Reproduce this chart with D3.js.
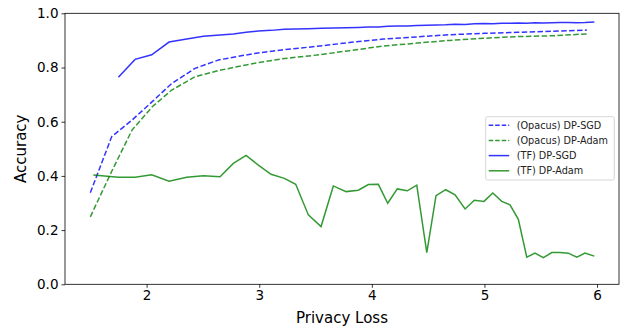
<!DOCTYPE html>
<html>
<head>
<meta charset="utf-8">
<script src="https://cdn.jsdelivr.net/npm/d3@7"></script>
<style>
  body { margin: 0; background: #fff; }
  svg { display: block; font-family: "DejaVu Sans", sans-serif; }
</style>
</head>
<body>
<svg id="chart" width="629" height="333"></svg>
<script>
// Accuracy vs privacy loss: Opacus vs TF, DP-SGD vs DP-Adam

const opacusEps  = [1.5, 1.69, 1.87, 2.05, 2.22, 2.43, 2.64, 2.96, 3.2, 3.51, 3.8, 4.1, 4.4, 4.69, 5.0, 5.29, 5.6, 5.91];
const opacusSgd  = [0.338, 0.545, 0.606, 0.674, 0.740, 0.797, 0.828, 0.852, 0.865, 0.878, 0.892, 0.905, 0.913, 0.921, 0.926, 0.930, 0.934, 0.938];
const opacusAdam = [0.249, 0.417, 0.569, 0.655, 0.716, 0.766, 0.789, 0.816, 0.832, 0.846, 0.862, 0.879, 0.890, 0.900, 0.908, 0.914, 0.917, 0.924];

const tfEps = [1.527, 1.749, 1.897, 2.045, 2.199, 2.356, 2.504, 2.652, 2.770, 2.883, 2.992, 3.105, 3.223, 3.324, 3.436,
               3.549, 3.658, 3.771, 3.880, 3.969, 4.058, 4.141, 4.226, 4.315, 4.399, 4.488, 4.570, 4.656, 4.739, 4.828,
               4.910, 4.996, 5.074, 5.154, 5.227, 5.301, 5.376, 5.449, 5.523, 5.598, 5.671, 5.745, 5.820, 5.893, 5.976];
const tfSgd  = [null, 0.764, 0.830, 0.847, 0.894, 0.905, 0.915, 0.920, 0.924, 0.930, 0.935, 0.937, 0.941, 0.942, 0.943,
                0.945, 0.946, 0.947, 0.948, 0.949, 0.949, 0.952, 0.953, 0.953, 0.955, 0.956, 0.957, 0.958, 0.960, 0.959,
                0.961, 0.962, 0.961, 0.963, 0.963, 0.964, 0.963, 0.965, 0.964, 0.965, 0.966, 0.966, 0.965, 0.966, 0.968];
const tfAdam = [0.403, 0.395, 0.395, 0.404, 0.380, 0.395, 0.401, 0.397, 0.446, 0.476, 0.440, 0.406, 0.391, 0.369, 0.256,
                0.213, 0.363, 0.342, 0.347, 0.368, 0.369, 0.299, 0.352, 0.345, 0.366, 0.117, 0.327, 0.349, 0.330, 0.278,
                0.310, 0.306, 0.337, 0.306, 0.293, 0.240, 0.100, 0.115, 0.098, 0.117, 0.117, 0.115, 0.100, 0.115, 0.104];

const xTicks = [2, 3, 4, 5, 6];
const yTicks = [0, 0.2, 0.4, 0.6, 0.8, 1.0];

const series = [
    { name: "(Opacus) DP-SGD",  xs: opacusEps, ys: opacusSgd,  color: "#0000ff", dash: "5.5,2.4" },
    { name: "(Opacus) DP-Adam", xs: opacusEps, ys: opacusAdam, color: "#008000", dash: "5.5,2.4" },
    { name: "(TF) DP-SGD",      xs: tfEps,     ys: tfSgd,      color: "#0000ff", dash: null },
    { name: "(TF) DP-Adam",     xs: tfEps,     ys: tfAdam,     color: "#008000", dash: null },
];

const W = 629, H = 333;
const margin = { top: 13.3, right: 10, bottom: 48.7, left: 65 };

const svg = d3.select("#chart");

const x = d3.scaleLinear().domain([1.275, 6.195]).range([margin.left, W - margin.right]);
const y = d3.scaleLinear().domain([0, 1]).range([H - margin.bottom, margin.top]);

// Lines
const line = d3.line()
    .defined(d => d[1] != null)
    .x(d => x(d[0]))
    .y(d => y(d[1]));

const g = svg.append("g");
g.selectAll("path")
    .data(series)
    .join("path")
    .attr("d", s => line(s.xs.map((v, i) => [v, s.ys[i]])))
    .attr("fill", "none")
    .attr("stroke", s => s.color)
    .attr("stroke-opacity", 0.8)
    .attr("stroke-width", 1.5)
    .attr("stroke-dasharray", s => s.dash);

// Axes
const xAxis = svg.append("g")
    .attr("transform", `translate(0,${H - margin.bottom})`)
    .call(d3.axisBottom(x).tickValues(xTicks).tickFormat(d3.format("d")).tickSizeOuter(0).tickSize(3.5).tickPadding(3));
const yAxis = svg.append("g")
    .attr("transform", `translate(${margin.left},0)`)
    .call(d3.axisLeft(y).tickValues(yTicks).tickFormat(d3.format(".1f")).tickSizeOuter(0).tickSize(3.5).tickPadding(3));

[xAxis, yAxis].forEach(a => {
    a.select(".domain").remove();
    a.selectAll("line").attr("stroke", "#000").attr("stroke-width", 0.8);
    a.selectAll("text").attr("font-family", "DejaVu Sans").attr("font-size", 13.5).attr("fill", "#000");
});

// Frame
svg.append("rect")
    .attr("x", margin.left).attr("y", margin.top)
    .attr("width", W - margin.left - margin.right)
    .attr("height", H - margin.top - margin.bottom)
    .attr("fill", "none")
    .attr("stroke", "#000")
    .attr("stroke-width", 0.8);

// Axis labels
svg.append("text")
    .attr("x", (margin.left + W - margin.right) / 2).attr("y", 323)
    .attr("text-anchor", "middle")
    .attr("font-size", 15)
    .text("Privacy Loss");
svg.append("text")
    .attr("transform", `translate(26,${(margin.top + H - margin.bottom) / 2}) rotate(-90)`)
    .attr("text-anchor", "middle")
    .attr("font-size", 15)
    .text("Accuracy");

// Legend
const lg = svg.append("g").attr("transform", "translate(485.7,116.7)");
lg.append("rect")
    .attr("width", 128.6).attr("height", 63.3)
    .attr("rx", 2)
    .attr("fill", "#fff").attr("fill-opacity", 0.8)
    .attr("stroke", "#ccc").attr("stroke-width", 0.8);
const items = lg.selectAll("g.item")
    .data(series)
    .join("g")
    .attr("class", "item")
    .attr("transform", (d, i) => `translate(0,${8.5 + i * 15.2})`);
items.append("line")
    .attr("x1", 3).attr("x2", 23.5)
    .attr("stroke", s => s.color)
    .attr("stroke-opacity", 0.8)
    .attr("stroke-width", 1.5)
    .attr("stroke-dasharray", s => s.dash ? "4.5,2" : null);
items.append("text")
    .attr("x", 31).attr("dy", "0.35em")
    .attr("font-size", 9.7)
    .attr("fill", "#222")
    .text(s => s.name);
</script>
</body>
</html>
